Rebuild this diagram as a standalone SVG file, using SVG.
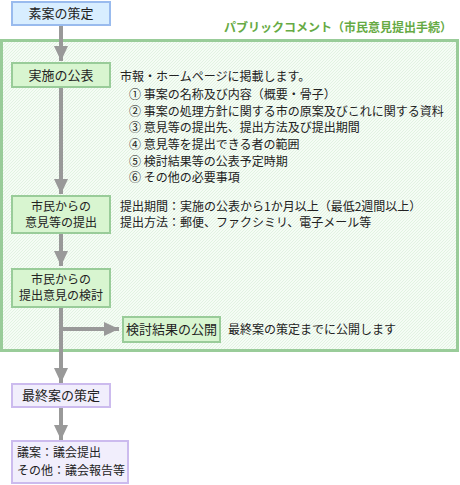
<svg xmlns="http://www.w3.org/2000/svg" width="460" height="485" viewBox="0 0 460 485">
<defs>
<pattern id="hatch" width="3" height="3" patternUnits="userSpaceOnUse">
<rect width="3" height="3" fill="#f5fcf5"/>
<path d="M0,3 L3,0" stroke="#e2f3e2" stroke-width="1"/>
</pattern>
<marker id="ah" markerUnits="userSpaceOnUse" markerWidth="16" markerHeight="14" refX="15" refY="7" orient="auto">
<path d="M0,0 L15,7 L0,14 Z" fill="#999999"/>
</marker>
</defs>
<style>
text{font-family:"Noto Sans CJK JP","Noto Sans CJK SC",sans-serif;font-size:12px;fill:#222}
.c{text-anchor:middle}
.bt{font-size:13px}
.blue{fill:#d8eeff;stroke:#99bbee;stroke-width:2}
.green{fill:#d8f5d0;stroke:#99cc99;stroke-width:2}
.purple{fill:#f1eefc;stroke:#ccbbee;stroke-width:2}
.line{stroke:#999999;stroke-width:4;fill:none}
.title{fill:#66aa44;font-weight:bold;font-size:12px;text-anchor:end}
</style>
<g id="container">
<rect x="1.5" y="40.5" width="456" height="310" fill="url(#hatch)" stroke="#99cc99" stroke-width="3"/>
<text class="title" x="452" y="32">パブリックコメント（市民意見提出手続）</text>
</g>
<g id="connectors">
<line class="line" x1="61" y1="25" x2="61" y2="61" marker-end="url(#ah)"/>
<line class="line" x1="61" y1="87" x2="61" y2="194" marker-end="url(#ah)"/>
<line class="line" x1="61" y1="233" x2="61" y2="266" marker-end="url(#ah)"/>
<line class="line" x1="61" y1="307" x2="61" y2="383" marker-end="url(#ah)"/>
<line class="line" x1="61" y1="329" x2="119" y2="329" marker-end="url(#ah)"/>
<line class="line" x1="61" y1="407" x2="61" y2="440" marker-end="url(#ah)"/>
</g>
<g id="n1">
<rect class="blue" x="12" y="2" width="98" height="23"/>
<text class="c bt" x="61" y="18">素案の策定</text>
</g>
<g id="n2">
<rect class="green" x="12" y="63" width="98" height="24"/>
<text class="c bt" x="61" y="80">実施の公表</text>
<text x="120" y="81">市報・ホームページに掲載します。</text>
<text x="129" y="99">① 事案の名称及び内容（概要・骨子）</text>
<text x="129" y="116">② 事案の処理方針に関する市の原案及びこれに関する資料</text>
<text x="129" y="132">③ 意見等の提出先、提出方法及び提出期間</text>
<text x="129" y="149">④ 意見等を提出できる者の範囲</text>
<text x="129" y="166">⑤ 検討結果等の公表予定時期</text>
<text x="129" y="182">⑥ その他の必要事項</text>
</g>
<g id="n3">
<rect class="green" x="12" y="196" width="98" height="37"/>
<text class="c" x="61" y="211">市民からの</text>
<text class="c" x="61" y="227">意見等の提出</text>
<text x="120" y="211">提出期間：実施の公表から1か月以上（最低2週間以上）</text>
<text x="120" y="227">提出方法：郵便、ファクシミリ、電子メール等</text>
</g>
<g id="n4">
<rect class="green" x="12" y="269" width="98" height="38"/>
<text class="c" x="61" y="284">市民からの</text>
<text class="c" x="61" y="300">提出意見の検討</text>
</g>
<g id="n5">
<rect class="green" x="123" y="317" width="97" height="25"/>
<text class="c bt" x="171.5" y="334">検討結果の公開</text>
<text x="228" y="334">最終案の策定までに公開します</text>
</g>
<g id="n6">
<rect class="purple" x="12" y="384" width="98" height="23"/>
<text class="c bt" x="61" y="400">最終案の策定</text>
</g>
<g id="n7">
<rect class="purple" x="12" y="441" width="116" height="42"/>
<text x="17" y="457">議案：議会提出</text>
<text x="17" y="475">その他：議会報告等</text>
</g>
</svg>
